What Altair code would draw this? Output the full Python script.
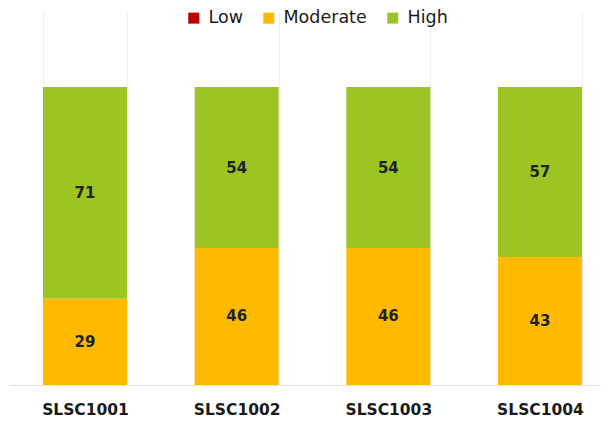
import altair as alt
import pandas as pd

categories = ["SLSC1001", "SLSC1002", "SLSC1003", "SLSC1004"]
low = [0, 0, 0, 0]
moderate = [29, 46, 46, 43]
high = [71, 54, 54, 57]
levels = ["Low", "Moderate", "High"]
colors = ["#C00000", "#FFBA00", "#9CC524"]

rows = []
for i, c in enumerate(categories):
    for order, (lvl, vals) in enumerate(zip(levels, [low, moderate, high])):
        rows.append({"cat": c, "level": lvl, "value": vals[i], "order": order})
df = pd.DataFrame(rows)

base = alt.Chart(df).transform_stack(
    stack="value", groupby=["cat"], as_=["y0", "y1"], sort=[{"field": "order"}]
).transform_calculate(mid="(datum.y0 + datum.y1) / 2")

xscale = alt.Scale(range=[1.2, 607.8], paddingInner=0.446, paddingOuter=0.223)
xenc = alt.X(
    "cat:N",
    sort=categories,
    title=None,
    scale=xscale,
    axis=alt.Axis(
        labelAngle=0,
        labelFont="DejaVu Sans",
        labelFontWeight="bold",
        labelFontSize=15.5,
        labelColor="#1a1a1a",
        labelPadding=17,
        ticks=False,
        domainColor="#e2e2e2",
        grid=True,
        gridColor="#eeeeee",
        tickBand="extent",
    ),
)
yscale = alt.Scale(domain=[0, 125.2], nice=False)

bars = base.mark_bar().encode(
    x=xenc,
    y=alt.Y("y0:Q", scale=yscale, axis=None),
    y2="y1:Q",
    color=alt.Color(
        "level:N",
        sort=levels,
        scale=alt.Scale(domain=levels, range=colors),
        legend=alt.Legend(
            title=None,
            orient="none",
            direction="horizontal",
            legendX=177,
            legendY=-3,
            symbolType="square",
            symbolSize=121,
            symbolStrokeWidth=0,
            labelFont="DejaVu Sans",
            labelFontSize=17.5,
            labelColor="#1a1a1a",
            labelOffset=6,
            columnPadding=17,
        ),
    ),
    order=alt.Order("order:Q"),
)

labels = base.transform_filter("datum.value > 0").mark_text(
    font="DejaVu Sans", fontWeight="bold", fontSize=15, color="#222222", baseline="middle"
).encode(
    x=alt.X("cat:N", sort=categories, scale=xscale),
    y=alt.Y("mid:Q", scale=yscale),
    text=alt.Text("value:Q"),
)

chart = (bars + labels).properties(
    width=593,
    height=373,
    padding={"left": 0, "top": 4, "right": 0, "bottom": 36},
    autosize=alt.AutoSizeParams(type="none"),
).configure_view(stroke=None)

chart.save("out.html", embed_options={"renderer": "svg", "actions": False})
